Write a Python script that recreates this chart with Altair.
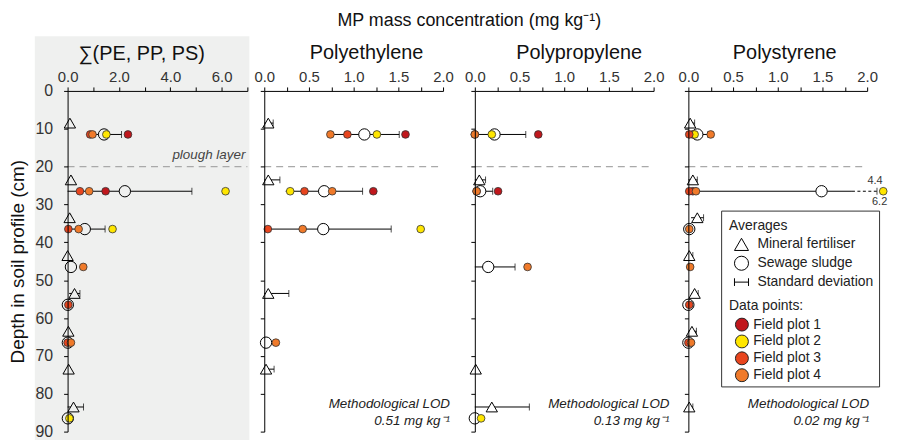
import altair as alt
import pandas as pd

FONT = "Liberation Sans"
BG_GREY = "#eff0ef"

# ---------------- data ----------------
DEPTHS = [10, 25, 35, 45, 55, 65, 75, 85]
PANEL_TITLES = ["∑(PE, PP, PS)", "Polyethylene", "Polypropylene", "Polystyrene"]
X_MAX = [7.0, 2.0, 2.0, 2.0]
X_TICK_STEP = [1.0, 0.25, 0.25, 0.25]
X_LABEL_STEP = [2.0, 0.5, 0.5, 0.5]
LOD_VALUES = ["", "0.51", "0.13", "0.02"]
PLOUGH_DEPTH = 20
PLOTS = ["Field plot 1", "Field plot 2", "Field plot 3", "Field plot 4"]
PLOT_COLORS = ["#c0171c", "#ffe600", "#e8451e", "#f07a2a"]
AVERAGES = ["Mineral fertiliser", "Sewage sludge", "Standard deviation"]
N = None

# Sum of PE, PP, PS
SUM_MF_MEAN = [0.09, 0.13, 0.08, 0.0, 0.27, 0.03, 0.04, 0.23]
SUM_MF_SD = [0.03, 0.04, 0.04, 0.02, 0.21, 0.02, 0.02, 0.39]
SUM_SS_MEAN = [1.42, 2.23, 0.67, 0.13, 0.01, 0.01, N, 0.01]
SUM_SS_SD = [0.68, 2.61, 0.79, 0.08, 0.0, 0.0, N, 0.0]
SUM_P1 = [2.35, 1.48, N, N, N, N, N, N]
SUM_P2 = [1.51, 6.15, 1.75, N, N, N, N, 0.07]
SUM_P3 = [0.88, 0.48, 0.03, N, 0.03, 0.0, N, N]
SUM_P4 = [0.97, 0.84, 0.43, 0.61, N, 0.13, N, N]

# Polyethylene
PE_MF_MEAN = [0.045, 0.045, N, N, 0.045, N, 0.02, N]
PE_MF_SD = [0.055, 0.13, N, N, 0.23, N, 0.09, N]
PE_SS_MEAN = [1.12, 0.67, 0.66, N, N, 0.02, N, N]
PE_SS_SD = [0.39, 0.43, 0.76, N, N, 0.04, N, N]
PE_P1 = [1.58, 1.22, N, N, N, N, N, N]
PE_P2 = [1.26, 0.29, 1.75, N, N, N, N, N]
PE_P3 = [0.93, 0.45, 0.04, N, N, N, N, N]
PE_P4 = [0.74, 0.76, 0.43, N, N, 0.13, N, N]

# Polypropylene
PP_MF_MEAN = [N, 0.05, N, N, N, N, 0.01, 0.19]
PP_MF_SD = [N, 0.07, N, N, N, N, 0.0, 0.42]
PP_SS_MEAN = [0.22, 0.06, N, 0.15, N, N, N, 0.0]
PP_SS_SD = [0.35, 0.14, N, 0.30, N, N, N, 0.03]
PP_P1 = [0.71, 0.26, N, N, N, N, N, N]
PP_P2 = [0.19, N, N, N, N, N, N, 0.07]
PP_P3 = [0.0, 0.02, N, N, N, N, N, N]
PP_P4 = [0.0, 0.02, N, 0.59, N, N, N, N]

# Polystyrene
PS_MF_MEAN = [0.02, 0.05, 0.10, 0.01, 0.07, 0.04, N, 0.01]
PS_MF_SD = [0.05, 0.05, 0.07, 0.04, 0.04, 0.05, N, 0.04]
PS_SS_MEAN = [0.10, 1.49, 0.01, N, 0.0, 0.0, N, N]
PS_SS_SD = [0.12, 4.4, 0.01, N, 0.0, 0.0, N, N]
PS_P1 = [0.05, 0.05, N, N, N, N, N, N]
PS_P2 = [0.07, 6.2, N, N, N, N, N, N]
PS_P3 = [0.01, 0.01, N, N, 0.01, 0.0, N, N]
PS_P4 = [0.25, 0.085, 0.01, 0.02, N, 0.03, N, N]

SERIES = [
    (SUM_MF_MEAN, SUM_MF_SD, SUM_SS_MEAN, SUM_SS_SD, [SUM_P1, SUM_P2, SUM_P3, SUM_P4]),
    (PE_MF_MEAN, PE_MF_SD, PE_SS_MEAN, PE_SS_SD, [PE_P1, PE_P2, PE_P3, PE_P4]),
    (PP_MF_MEAN, PP_MF_SD, PP_SS_MEAN, PP_SS_SD, [PP_P1, PP_P2, PP_P3, PP_P4]),
    (PS_MF_MEAN, PS_MF_SD, PS_SS_MEAN, PS_SS_SD, [PS_P1, PS_P2, PS_P3, PS_P4]),
]

# ---------------- layout constants ----------------
MF_SHIFT = -1.5
SS_SHIFT = 1.5
BREAK_FROM = 1.83   # where the broken (off-scale) error bar turns dashed
CAP_AT = 2.11       # display position of an off-scale error cap
POINT_AT = 2.18     # display position of an off-scale point
PANEL_W = [181, 180, 180, 180]
PANEL_H = 343
LOD_DX = [0, 7, 16, 2]
RIGHT_PAD = [0, 16.3, 19.6, 0]      # invisible extent to the right of each panel
TITLE_DX = [-16, 13, 15, 7]
SPACING = 4
MARK_SIZE = 130


def build(i):
    xmax = X_MAX[i]
    mf_m, mf_s, ss_m, ss_s, pts = SERIES[i]
    means, bars, points = [], [], []
    for treat, shift, m_arr, s_arr in [(AVERAGES[0], MF_SHIFT, mf_m, mf_s),
                                       (AVERAGES[1], SS_SHIFT, ss_m, ss_s)]:
        for d, m, s in zip(DEPTHS, m_arr, s_arr):
            if m is None:
                continue
            y = d + shift
            means.append(dict(treat=treat, y=y, x=m))
            if s:
                lo = max(0.0, m - s)
                hi = m + s
                if hi > xmax:
                    bars.append(dict(y=y, lo=lo, solid=BREAK_FROM, cap=CAP_AT, broken=1, label=f"{s:g}"))
                else:
                    bars.append(dict(y=y, lo=lo, solid=hi, cap=hi, broken=0, label=""))
    for name, vals in zip(PLOTS, pts):
        for d, v in zip(DEPTHS, vals):
            if v is None:
                continue
            if v > xmax:
                points.append(dict(plot=name, y=d + SS_SHIFT, x=POINT_AT, label=f"{v:g}"))
            else:
                points.append(dict(plot=name, y=d + SS_SHIFT, x=v, label=""))
    return pd.DataFrame(means), pd.DataFrame(bars), pd.DataFrame(points)


shape_scale = alt.Scale(domain=AVERAGES,
                        range=["triangle-up", "circle", "M-1,0H1M-1,-0.55V0.55M1,-0.55V0.55"])
color_scale = alt.Scale(domain=PLOTS, range=PLOT_COLORS)

LEG_X = 666
LEG_Y = 129
shape_legend = alt.Legend(title="Averages", orient="none", legendX=LEG_X, legendY=LEG_Y,
                          padding=0, symbolFillColor="white", symbolStrokeColor="black",
                          symbolStrokeWidth=1, symbolSize=200, symbolOffset=4.5,
                          labelFontSize=14, titleFontSize=14, titleFontWeight="normal",
                          labelFont=FONT, titleFont=FONT, labelColor="#222", titleColor="#222",
                          rowPadding=2, clipHeight=17, labelOffset=8, titlePadding=3)
color_legend = alt.Legend(title="Data points:", orient="none", legendX=LEG_X, legendY=LEG_Y + 80.6,
                          padding=0, symbolStrokeColor="#222", symbolStrokeWidth=1,
                          symbolSize=170, symbolOffset=5.4, symbolType="circle",
                          labelFontSize=14, titleFontSize=14, titleFontWeight="normal",
                          labelFont=FONT, titleFont=FONT, labelColor="#222", titleColor="#222",
                          rowPadding=2, clipHeight=14.7, labelOffset=3.8, titlePadding=4.3)


def panel(i):
    xmax = X_MAX[i]
    W = PANEL_W[i]
    bg = BG_GREY if i == 0 else "white"
    means, bars, points = build(i)
    nt = int(round(xmax / X_TICK_STEP[i]))
    ticks = [k * X_TICK_STEP[i] for k in range(nt + 1)]
    x_axis = alt.Axis(orient="top", values=ticks, title=None, grid=False,
                      labelExpr=f"datum.value % {X_LABEL_STEP[i]} == 0 ? format(datum.value, '.1f') : ''",
                      labelFlush=False, labelOverlap=False, tickSize=4, labelFontSize=15,
                      labelPadding=2, zindex=1)
    if i == 0:
        y_axis = alt.Axis(values=list(range(0, 91, 10)), title="Depth in soil profile (cm)",
                          grid=False, tickSize=4, labelFontSize=16, labelPadding=11,
                          titleFontSize=19, titleFontWeight="normal", titleColor="#111",
                          titlePadding=8, zindex=1, labelFlush=False)
    else:
        y_axis = alt.Axis(values=list(range(0, 91, 10)), title=None, labels=False,
                          grid=False, tickSize=4, zindex=1)
    xs = alt.Scale(domain=[0, xmax], nice=False, zero=False)
    ys = alt.Scale(domain=[0, 90], reverse=True, nice=False, zero=False)

    def X(f):
        return alt.X(f, type="quantitative", scale=xs, axis=x_axis)

    def Y(f):
        return alt.Y(f, type="quantitative", scale=ys, axis=y_axis)

    one = pd.DataFrame({"k": [0]})
    layers = []
    if i == 0:
        layers.append(alt.Chart(one).mark_rect(fill=BG_GREY).encode(
            x=alt.value(-33), x2=alt.value(W + 2), y=alt.value(-55), y2=alt.value(PANEL_H + 12)))
        layers.append(alt.Chart(one).mark_text(
            text=PANEL_TITLES[0], fontSize=20, color="#111", align="center",
            baseline="alphabetic").encode(x=alt.value(W / 2 + TITLE_DX[0]), y=alt.value(-31)))
    if i == 3:
        layers.append(alt.Chart(one).mark_rect(fill="white", stroke="#333", strokeWidth=1).encode(
            x=alt.value(33.5), x2=alt.value(192.5), y=alt.value(121), y2=alt.value(298)))
    if RIGHT_PAD[i]:
        layers.append(alt.Chart(one).mark_rule(opacity=0).encode(
            x=alt.value(W + RIGHT_PAD[i]), y=alt.value(0), y2=alt.value(2)))
    plough = pd.DataFrame({"y": [PLOUGH_DEPTH], "x0": [0.0], "x1": [xmax]})
    layers.append(alt.Chart(plough).mark_rule(strokeDash=[7, 5], color="#a9a9a9", strokeWidth=1.3).encode(
        x=X("x0"), x2=alt.X2("x1"), y=Y("y")))
    if i == 0:
        layers.append(alt.Chart(plough).mark_text(
            text="plough layer", align="right", baseline="alphabetic", fontStyle="italic",
            fontSize=13.5, color="#444", dy=-8).encode(x=alt.value(W - 2), y=Y("y")))
    # error bars
    layers.append(alt.Chart(bars).mark_rule(color="black", strokeWidth=1).encode(
        x=X("lo"), x2=alt.X2("solid"), y=Y("y")))
    brk = bars[bars["broken"] == 1]
    if len(brk):
        layers.append(alt.Chart(brk).mark_rule(color="black", strokeWidth=1, strokeDash=[3, 2.5]).encode(
            x=X("solid"), x2=alt.X2("cap"), y=Y("y")))
        layers.append(alt.Chart(brk).mark_text(fontSize=11, color="#333", dy=-10, dx=-2).encode(
            x=X("cap"), y=Y("y"), text="label:N"))
    layers.append(alt.Chart(bars).mark_tick(orient="vertical", size=7, thickness=1, color="black").encode(
        x=X("cap"), y=Y("y")))
    # averages: background masks, then outlines
    mf = means[means["treat"] == AVERAGES[0]]
    ss = means[means["treat"] == AVERAGES[1]]
    for df, shp in [(mf, "triangle-up"), (ss, "circle")]:
        if len(df):
            layers.append(alt.Chart(df).mark_point(shape=shp, filled=True, fill=bg, strokeOpacity=0,
                                                   size=MARK_SIZE, opacity=1).encode(x=X("x"), y=Y("y")))
    layers.append(alt.Chart(means).mark_point(filled=False, color="black", strokeWidth=1,
                                              size=MARK_SIZE, opacity=1).encode(
        x=X("x"), y=Y("y"),
        shape=alt.Shape("treat:N", scale=shape_scale, legend=shape_legend)))
    # field plot points
    layers.append(alt.Chart(points).mark_point(filled=True, size=60, stroke="#333", strokeWidth=0.8,
                                               opacity=1).encode(
        x=X("x"), y=Y("y"),
        color=alt.Color("plot:N", scale=color_scale, legend=color_legend)))
    off = points[points["label"] != ""]
    if len(off):
        layers.append(alt.Chart(off).mark_text(fontSize=11, color="#333", dy=11, dx=4,
                                               align="right").encode(
            x=X("x"), y=Y("y"), text="label:N"))
    if LOD_VALUES[i]:
        layers.append(alt.Chart(one).mark_text(
            text=["Methodological LOD", f"{LOD_VALUES[i]} mg kg⁻¹"], align="right",
            baseline="alphabetic", fontStyle="italic", fontSize=13.5, lineHeight=17,
            color="#222").encode(x=alt.value(W + LOD_DX[i]), y=alt.value(319)))
    props = dict(width=W, height=PANEL_H)
    if i > 0:
        props["title"] = alt.TitleParams(PANEL_TITLES[i], fontSize=20, fontWeight="normal",
                                         color="#111", font=FONT, offset=7, dx=TITLE_DX[i])
    return alt.layer(*layers).properties(**props)


chart = alt.hconcat(
    *[panel(i) for i in range(4)], spacing=SPACING,
    title=alt.TitleParams("MP mass concentration (mg kg⁻¹)", fontSize=18, font=FONT,
                          fontWeight="normal", color="#111", anchor="middle", dx=21, offset=6),
    padding={"left": 0, "top": 3, "right": 0, "bottom": 0},
).resolve_scale(
    x="independent", y="independent", color="shared", shape="shared"
).configure(font=FONT, background="white").configure_view(stroke=None).configure_axis(
    domainColor="black", tickColor="black", labelColor="#333", labelFont=FONT, titleFont=FONT,
    domainWidth=1, tickWidth=1
)

chart.save("out.html", embed_options={"renderer": "svg", "actions": False})
